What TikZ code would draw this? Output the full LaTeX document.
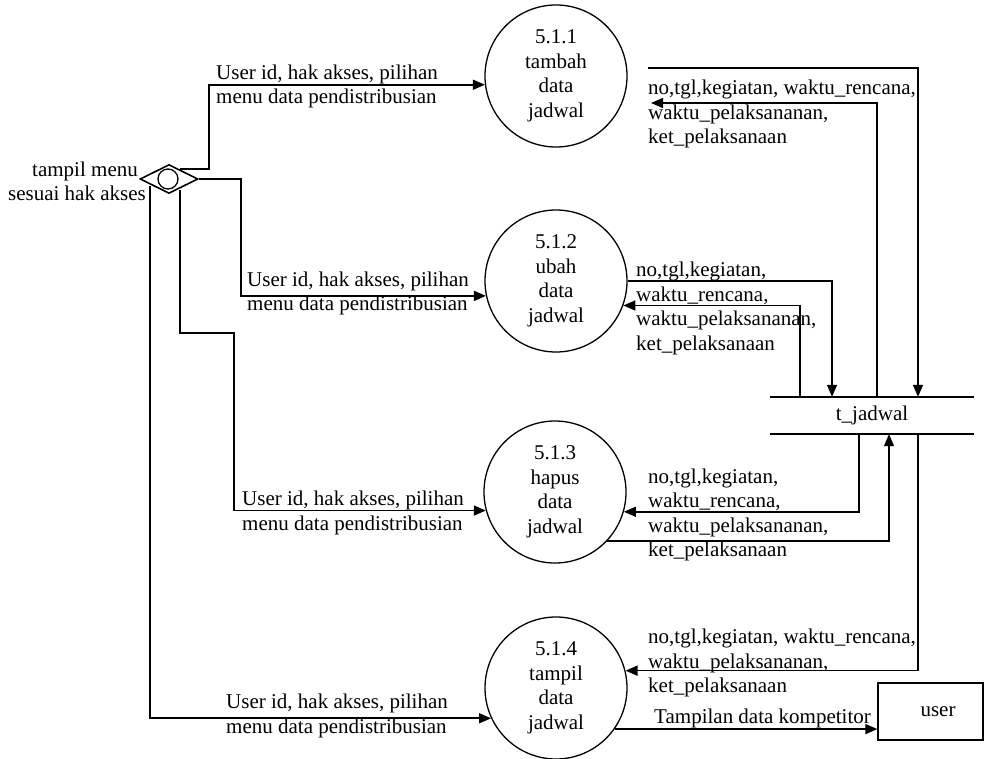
\documentclass[tikz,border=0pt]{standalone}
\usepackage{fontspec}
\setmainfont{Liberation Serif}
\usetikzlibrary{shapes.geometric,arrows.meta}
\begin{document}
\begin{tikzpicture}[x=1pt,y=-1pt,
  txt/.style={font=\fontsize{21}{24.5}\selectfont},
  flow/.style={line width=1.6pt,-{Triangle[length=12pt,width=10pt]}},
  plain/.style={line width=1.6pt},
  proc/.style={circle,draw,line width=1.3pt,minimum size=142pt,inner sep=0pt,align=center,txt},
  lbl/.style={align=left,anchor=west,inner sep=0pt,txt},
]
\useasboundingbox (0,0) rectangle (984,759);

% processes
\node[proc] (p1) at (556,76)  {5.1.1\\tambah\\data\\jadwal};
\node[proc] (p2) at (556,281) {5.1.2\\ubah\\data\\jadwal};
\node[proc] (p3) at (555,492) {5.1.3\\hapus\\data\\jadwal};
\node[proc] (p4) at (556,688) {5.1.4\\tampil\\data\\jadwal};

% menu selector
\node[diamond,draw,line width=1.6pt,minimum width=58pt,minimum height=29pt,inner sep=0pt] (d) at (169,179) {};
\node[circle,draw,line width=1.3pt,minimum size=20pt,inner sep=0pt] (dc) at (168,179) {};
\node[align=right,anchor=east,inner sep=0pt,txt] (tm) at (146,181.5) {tampil menu\hspace*{8pt}\\sesuai hak akses};

% data store
\node[minimum width=204pt,minimum height=37pt,inner sep=0pt,txt] (store) at (872,415.5) {t\_jadwal};
\draw[plain] (store.north west) -- (store.north east);
\draw[plain] (store.south west) -- (store.south east);

% external entity label text (drawn before box)
\node[lbl] (tk) at (654,718) {Tampilan data kompetitor};
\node[draw,line width=1.3pt,fill=white,minimum width=105pt,minimum height=57pt,inner sep=0pt,txt] (user) at (930.5,711.5) {\hspace*{15pt}user};

% connectors from menu selector
\coordinate (dA) at (180,169);
\coordinate (dC) at (180,190);
\coordinate (dD) at (150,186);
\draw[flow] (dA) -- (209,169) |- (p1.187);
\draw[flow] (d.east) -- (241,179) |- (p2.192);
\draw[flow] (dC) |- (234,333) |- (p3.195.5);
\draw[flow] (dD) |- (p4.205);

\node[lbl] (u1) at (216,86.5) {User id, hak akses, pilihan\\menu data pendistribusian};
\node[lbl] (u2) at (247,293.5) {User id, hak akses, pilihan\\menu data pendistribusian};
\node[lbl] (u3) at (242,513) {User id, hak akses, pilihan\\menu data pendistribusian};
\node[lbl] (u4) at (226,716) {User id, hak akses, pilihan\\menu data pendistribusian};

% connectors with the data store
\coordinate (o1) at (648,68);
\coordinate (i1) at (651,103);
\draw[flow] (o1) -| (918,0 |- store.north);
\draw[flow] (877,0 |- store.north) |- (i1);
\draw[flow] (p2.east) -| (832,0 |- store.north);
\draw[flow] (800,0 |- store.north) |- (p2.340);
\draw[flow] (859,0 |- store.south) |- (p3.344);
\draw[flow] (p3.317.5) -| (889,0 |- store.south);
\draw[flow] (918,0 |- store.south) |- (p4.14);
\draw[flow] (p4.325) -- (p4.325 -| user.west);

\node[lbl] (s1) at (648,114) {no,tgl,kegiatan, waktu\_rencana,\\waktu\_pelaksananan,\\ket\_pelaksanaan};
\node[lbl] (s2) at (636,308.5) {no,tgl,kegiatan,\\waktu\_rencana,\\waktu\_pelaksananan,\\ket\_pelaksanaan};
\node[lbl] (s3) at (648,515) {no,tgl,kegiatan,\\waktu\_rencana,\\waktu\_pelaksananan,\\ket\_pelaksanaan};
\node[lbl] (s4) at (648,663) {no,tgl,kegiatan, waktu\_rencana,\\waktu\_pelaksananan,\\ket\_pelaksanaan};
\end{tikzpicture}
\end{document}
